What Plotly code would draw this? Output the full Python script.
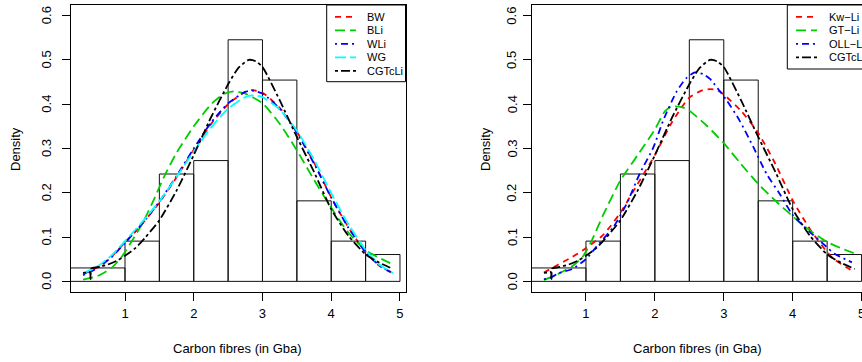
import plotly.graph_objects as go

# ---------------- data ----------------
bin_left = [0.0, 1.0, 1.5, 2.0, 2.5, 3.0, 3.5, 4.0, 4.5]
bin_right = [1.0, 1.5, 2.0, 2.5, 3.0, 3.5, 4.0, 4.5, 5.0]
bin_density = [0.0303, 0.0909, 0.2424, 0.2727, 0.5455, 0.4545, 0.1818, 0.0909, 0.0606]

# left panel curves
bw_x = [0.39, 0.6, 0.8, 1.0, 1.25, 1.5, 1.75, 2.0, 2.25, 2.5, 2.75, 2.85, 3.0, 3.25, 3.5, 3.75, 4.0, 4.25, 4.5, 4.7, 4.9]
bw_y = [0.016, 0.032, 0.055, 0.088, 0.130, 0.178, 0.235, 0.297, 0.355, 0.400, 0.428, 0.432, 0.426, 0.392, 0.338, 0.268, 0.190, 0.122, 0.066, 0.035, 0.018]
wli_x = bw_x
wli_y = [0.014, 0.030, 0.054, 0.087, 0.130, 0.180, 0.238, 0.300, 0.358, 0.402, 0.428, 0.431, 0.424, 0.390, 0.336, 0.266, 0.189, 0.121, 0.066, 0.036, 0.018]
wg_x = bw_x
wg_y = [0.018, 0.034, 0.058, 0.091, 0.134, 0.181, 0.236, 0.293, 0.347, 0.390, 0.416, 0.420, 0.416, 0.388, 0.340, 0.275, 0.199, 0.129, 0.071, 0.038, 0.019]
bli_x = [0.39, 0.6, 0.8, 0.95, 1.1, 1.25, 1.4, 1.58, 1.75, 2.0, 2.26, 2.45, 2.6, 2.75, 3.0, 3.25, 3.5, 3.75, 4.0, 4.25, 4.5, 4.7, 4.9]
bli_y = [0.004, 0.012, 0.030, 0.055, 0.091, 0.130, 0.178, 0.240, 0.290, 0.350, 0.401, 0.424, 0.429, 0.424, 0.402, 0.356, 0.296, 0.229, 0.166, 0.110, 0.070, 0.053, 0.038]
cgt_x = [0.39, 0.45, 0.49, 0.50, 0.51, 0.6, 0.75, 0.9, 1.0, 1.15, 1.3, 1.5, 1.75, 2.0, 2.25, 2.5, 2.65, 2.8, 2.9, 3.0, 3.25, 3.5, 3.75, 4.0, 4.25, 4.5, 4.7, 4.9]
cgt_y = [0.019, 0.020, 0.021, 0.005, 0.029, 0.032, 0.038, 0.048, 0.058, 0.075, 0.100, 0.138, 0.205, 0.285, 0.370, 0.445, 0.482, 0.500, 0.497, 0.484, 0.409, 0.326, 0.247, 0.163, 0.103, 0.061, 0.042, 0.028]

# right panel curves
kw_x = [0.39, 0.6, 0.8, 1.0, 1.25, 1.5, 1.75, 2.0, 2.25, 2.5, 2.7, 2.8, 2.9, 3.0, 3.25, 3.5, 3.75, 4.0, 4.25, 4.5, 4.6, 4.8, 4.9]
kw_y = [0.020, 0.038, 0.055, 0.075, 0.105, 0.155, 0.220, 0.285, 0.360, 0.415, 0.432, 0.434, 0.432, 0.422, 0.385, 0.335, 0.265, 0.183, 0.118, 0.066, 0.050, 0.030, 0.020]
gt_x = [0.39, 0.5, 0.65, 0.8, 0.95, 1.08, 1.25, 1.5, 1.75, 2.0, 2.15, 2.25, 2.4, 2.5, 2.75, 3.0, 3.25, 3.5, 3.75, 4.0, 4.25, 4.5, 4.7, 4.9]
gt_y = [0.003, 0.010, 0.021, 0.034, 0.055, 0.091, 0.150, 0.228, 0.285, 0.343, 0.385, 0.395, 0.393, 0.385, 0.352, 0.312, 0.265, 0.220, 0.182, 0.147, 0.115, 0.089, 0.075, 0.063]
oll_x = [0.39, 0.48, 0.6, 0.8, 1.0, 1.15, 1.4, 1.59, 1.78, 1.98, 2.12, 2.31, 2.45, 2.58, 2.7, 2.8, 3.04, 3.23, 3.43, 3.62, 3.81, 4.0, 4.24, 4.49, 4.6, 4.86]
oll_y = [0.005, 0.008, 0.018, 0.028, 0.050, 0.078, 0.123, 0.175, 0.243, 0.303, 0.363, 0.427, 0.458, 0.472, 0.468, 0.457, 0.409, 0.363, 0.303, 0.243, 0.198, 0.150, 0.113, 0.078, 0.063, 0.043]

x_ticks = [1, 2, 3, 4, 5]
y_ticks = [0.0, 0.1, 0.2, 0.3, 0.4, 0.5, 0.6]
y_tick_text = ["0.0", "0.1", "0.2", "0.3", "0.4", "0.5", "0.6"]
x_title = "Carbon fibres (in Gba)"
y_title = "Density"

left_names = ["BW", "BLi", "WLi", "WG", "CGTcLi"]
right_names = ["Kw\u2212Li", "GT\u2212Li", "OLL\u2212Li", "CGTcLi"]

# ---------------- styles ----------------
RED, GREEN, BLUE, CYAN, BLACK = "#FF0000", "#00CD00", "#0000FF", "#00FFFF", "#000000"
DASH = {"dashed": "6px,5px", "long": "10px,5px", "dotdash": "2px,4px,7px,4px",
        "longc": "11px,4px", "twodash": "3px,3px,9px,3px"}
FONT = "Liberation Sans, Arial, Helvetica, sans-serif"
W, H = 862, 362
M_T, M_B = 5, 70
PH = H - M_T - M_B

left_series = [(bw_x, bw_y, RED, DASH["dashed"]), (bli_x, bli_y, GREEN, DASH["long"]),
               (wli_x, wli_y, BLUE, DASH["dotdash"]), (wg_x, wg_y, CYAN, DASH["longc"]),
               (cgt_x, cgt_y, BLACK, DASH["twodash"])]
right_series = [(kw_x, kw_y, RED, DASH["dashed"]), (gt_x, gt_y, GREEN, DASH["long"]),
                (oll_x, oll_y, BLUE, DASH["dotdash"]), (cgt_x, cgt_y, BLACK, DASH["twodash"])]

fig = go.Figure()
centers = [(a + b) / 2 for a, b in zip(bin_left, bin_right)]
widths = [b - a for a, b in zip(bin_left, bin_right)]
for xa, ya in [("x", "y"), ("x2", "y2")]:
    fig.add_trace(go.Bar(x=centers, y=bin_density, width=widths, xaxis=xa, yaxis=ya,
                         marker=dict(color="rgba(255,255,255,0)", line=dict(color="#111", width=1)),
                         showlegend=False, hoverinfo="skip"))
for sx, sy, col, dash in left_series:
    fig.add_trace(go.Scatter(x=sx, y=sy, mode="lines", xaxis="x", yaxis="y",
                             line=dict(color=col, width=1.8, dash=dash, shape="spline", smoothing=0.6),
                             showlegend=False))
for sx, sy, col, dash in right_series:
    fig.add_trace(go.Scatter(x=sx, y=sy, mode="lines", xaxis="x2", yaxis="y2",
                             line=dict(color=col, width=1.8, dash=dash, shape="spline", smoothing=0.6),
                             showlegend=False))

def px2fx(px):
    return px / W

def py2fy(py):
    return (H - M_B - py) / PH

axis_common = dict(showgrid=False, zeroline=False, showline=True, linecolor="black", linewidth=1,
                   ticks="outside", ticklen=8, tickcolor="black", tickwidth=1, automargin=False,
                   tickfont=dict(family=FONT, size=13, color="black"))

fig.update_layout(
    width=W, height=H, margin=dict(l=0, r=0, t=M_T, b=M_B, autoexpand=False),
    paper_bgcolor="white", plot_bgcolor="white", bargap=0, barmode="overlay",
    xaxis=dict(domain=[px2fx(70.66), px2fx(405.5)], range=[0.2096, 5.0804], tickvals=x_ticks,
               mirror=True, anchor="y", ticklabelstandoff=1, **axis_common),
    yaxis=dict(domain=[0, 1], range=[-0.024, 0.624], tickvals=y_ticks, showticklabels=False,
               mirror=True, anchor="x", **axis_common),
    xaxis2=dict(domain=[px2fx(531.5), 1.0], range=[0.2096, 5.006], tickvals=x_ticks,
                mirror=True, anchor="y2", ticklabelstandoff=1, ticklabeloverflow="allow",
                **axis_common),
    yaxis2=dict(domain=[0, 1], range=[-0.024, 0.624], tickvals=y_ticks, showticklabels=False,
                mirror=False, anchor="x2", **axis_common),
)

annotations = []
shapes = []
for cx, dx, tx, yref in [(237, 15, 46.5, "y"), (697, 485, 512, "y2")]:
    annotations.append(dict(text=x_title, x=px2fx(cx), y=py2fy(348), xref="paper", yref="paper",
                            showarrow=False, xanchor="center", yanchor="middle",
                            font=dict(family=FONT, size=13, color="black")))
    annotations.append(dict(text=y_title, x=px2fx(dx), y=py2fy(149), xref="paper", yref="paper",
                            showarrow=False, xanchor="center", yanchor="middle", textangle=-90,
                            font=dict(family=FONT, size=13, color="black")))
    for v, t in zip(y_ticks, y_tick_text):
        annotations.append(dict(text=t, x=px2fx(tx), y=v, xref="paper", yref=yref,
                                showarrow=False, xanchor="center", yanchor="middle", textangle=-90,
                                font=dict(family=FONT, size=13, color="black")))

# legends (drawn manually, R style)
def legend(x0, x1, y_bottom, names, series, line_x0, text_dx):
    shapes.append(dict(type="rect", xref="paper", yref="paper", x0=px2fx(x0), x1=px2fx(x1),
                       y0=py2fy(y_bottom), y1=py2fy(5), line=dict(color="black", width=1),
                       fillcolor="white", layer="above"))
    for i, (name, s) in enumerate(zip(names, series)):
        yy = 16.8 + 13.5 * i
        shapes.append(dict(type="line", xref="paper", yref="paper", x0=px2fx(line_x0),
                           x1=px2fx(line_x0 + 21), y0=py2fy(yy), y1=py2fy(yy),
                           line=dict(color=s[2], width=1.8, dash=s[3]), layer="above"))
        annotations.append(dict(text=name, x=px2fx(line_x0 + text_dx), y=py2fy(yy), xref="paper",
                                yref="paper", showarrow=False, xanchor="left", yanchor="middle",
                                font=dict(family=FONT, size=11, color="black")))

legend(326.7, 405.5, 81.7, left_names, left_series, 335, 30)
legend(787.3, 900, 69, right_names, right_series, 796, 30.7)

fig.update_layout(annotations=annotations, shapes=shapes)
fig.write_html("out.html", config={"staticPlot": True, "displayModeBar": False},
               post_script="document.body.style.margin='0px';document.body.style.overflow='hidden';")
